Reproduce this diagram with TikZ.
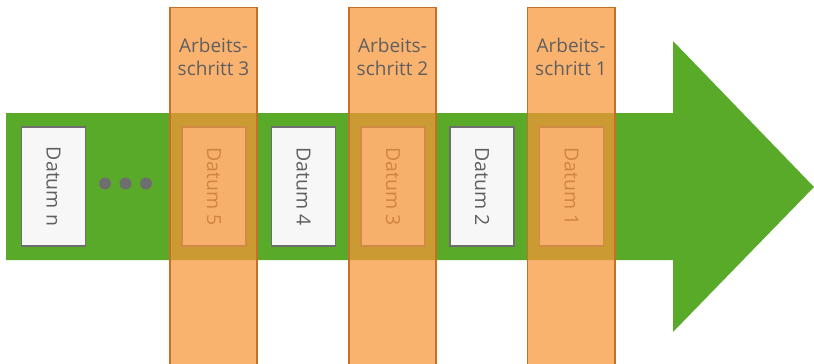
\documentclass[tikz,border=0pt]{standalone}
\usepackage{fontspec}
\setmainfont{Open Sans}
\definecolor{arrowgreen}{RGB}{90,170,42}
\definecolor{colfill}{RGB}{248,149,55}
\definecolor{colborder}{RGB}{196,112,40}
\definecolor{boxfill}{RGB}{247,247,247}
\definecolor{boxborder}{RGB}{110,110,110}
\definecolor{txtgray}{RGB}{95,95,95}
\begin{document}
\begin{tikzpicture}[x=1pt,y=-1pt,
  datumbox/.style={draw=boxborder,line width=1.6pt,fill=boxfill,minimum width=64pt,minimum height=119pt,inner sep=0pt},
  datumtext/.style={rotate=-90,text=txtgray,font=\fontsize{19.5}{22}\selectfont},
  column/.style={draw=colborder,line width=1.6pt,fill=colfill,fill opacity=0.72,draw opacity=1},
  collabel/.style={align=center,text=txtgray,font=\fontsize{19}{23}\selectfont},
  dot/.style={circle,fill=boxborder,minimum size=12pt,inner sep=0pt}]
\useasboundingbox (0,0) rectangle (814,364);
% arrow
\fill[arrowgreen] (6,113) -- (673,113) -- (673,41) -- (814,187) -- (673,332) -- (673,260) -- (6,260) -- cycle;
% datum boxes
\node[datumbox] (dn) at (53.5,186.5) {};
\node[datumtext] at (dn.center) {Datum n};
\node[datumbox] (d5) at (214,186.5) {};
\node[datumtext] at (d5.center) {Datum 5};
\node[datumbox] (d4) at (303.5,186.5) {};
\node[datumtext] at (d4.center) {Datum 4};
\node[datumbox] (d3) at (393,186.5) {};
\node[datumtext] at (d3.center) {Datum 3};
\node[datumbox] (d2) at (482,186.5) {};
\node[datumtext] at (d2.center) {Datum 2};
\node[datumbox] (d1) at (571.5,186.5) {};
\node[datumtext] at (d1.center) {Datum 1};
% dots
\node[dot] (p1) at (105,183.5) {};
\node[dot] (p2) at (125.5,183.5) {};
\node[dot] (p3) at (146,183.5) {};
% columns
\path[column] (170,7.5) rectangle (257,366);
\path[column] (349,7.5) rectangle (436,366);
\path[column] (527.5,7.5) rectangle (615,366);
\node[collabel] (a3) at (213.5,57) {Arbeits-\\schritt 3};
\node[collabel] (a2) at (392.5,57) {Arbeits-\\schritt 2};
\node[collabel] (a1) at (571,57) {Arbeits-\\schritt 1};
\end{tikzpicture}
\end{document}
